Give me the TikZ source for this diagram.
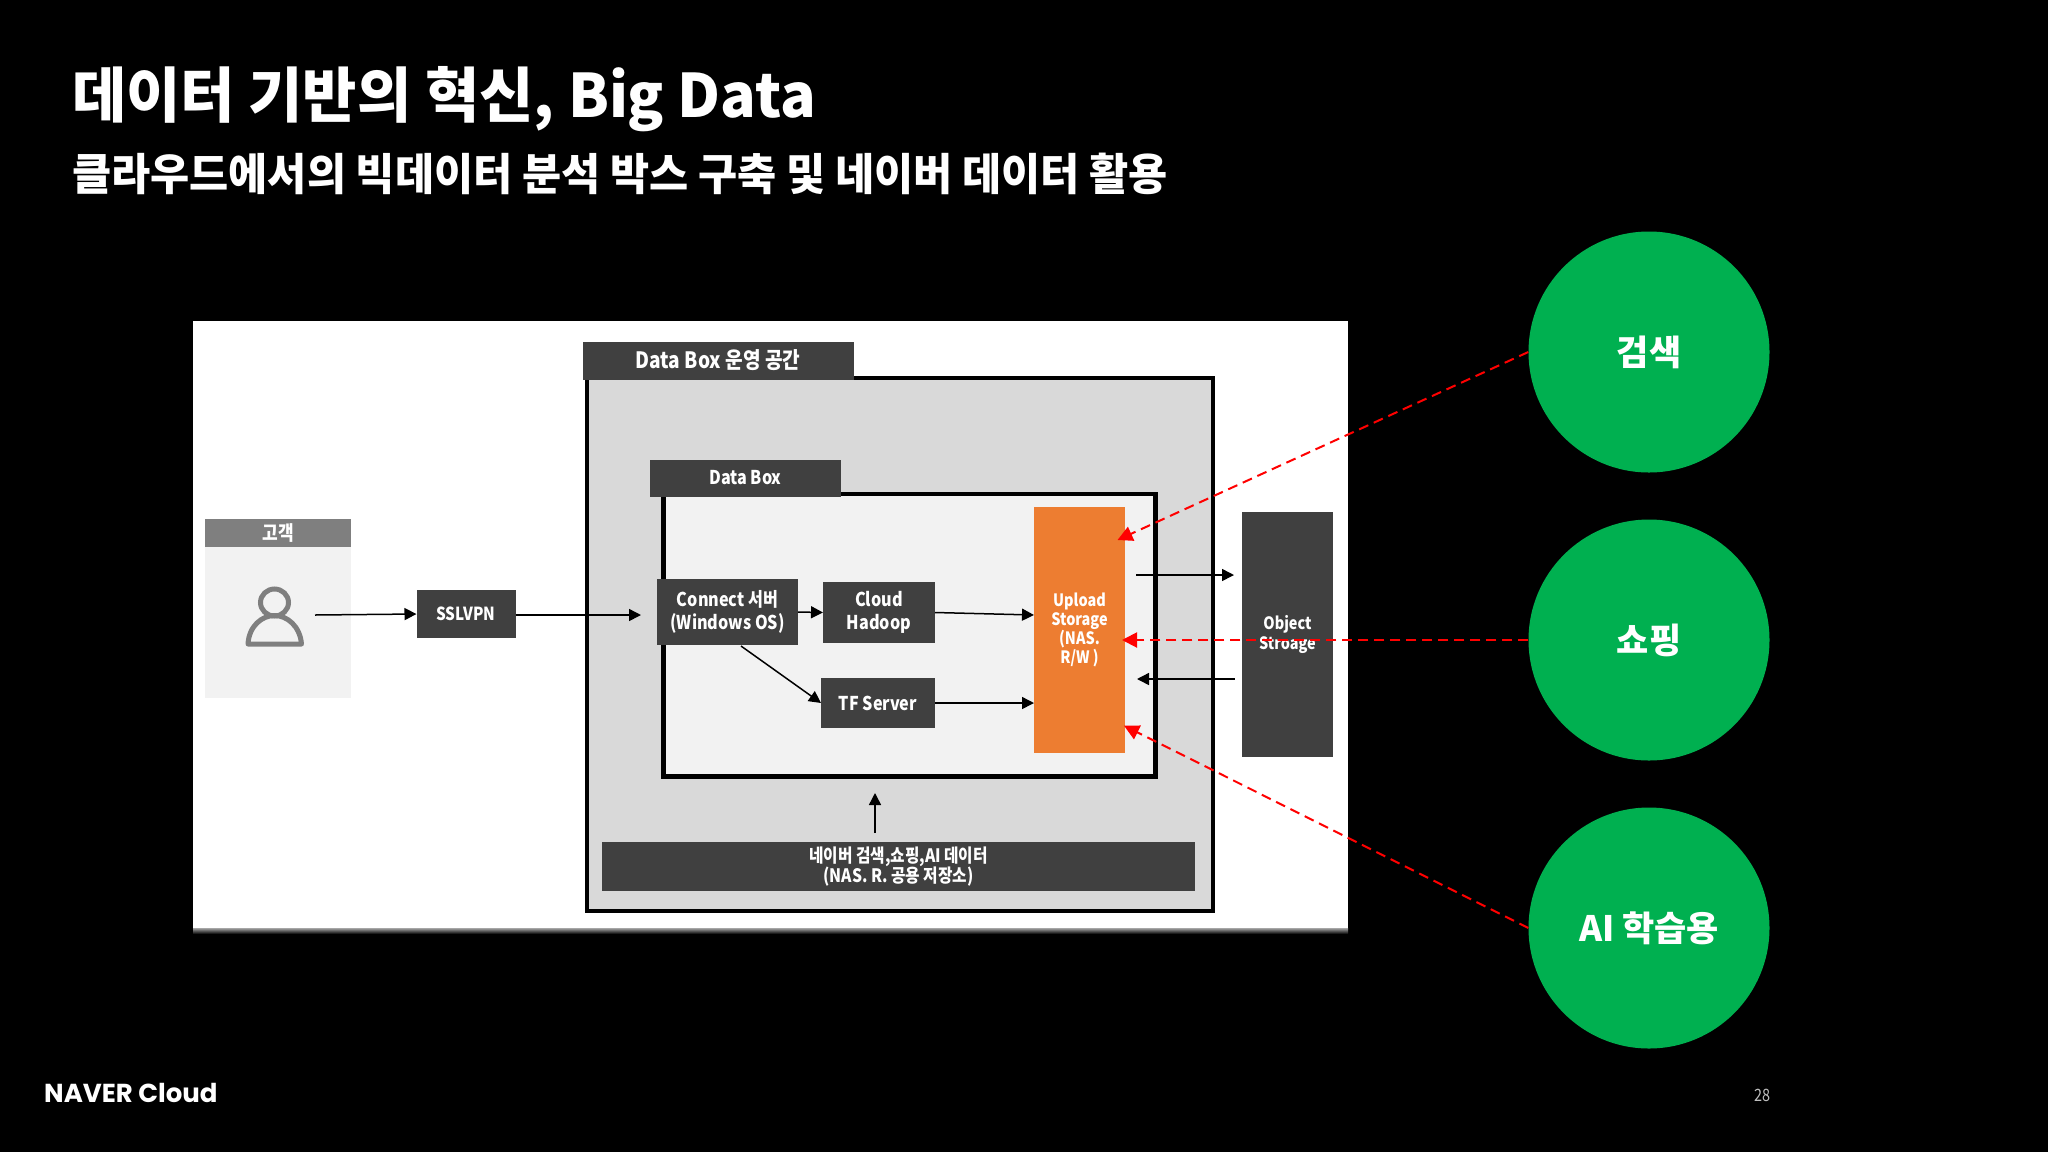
\documentclass[tikz,border=0pt]{standalone}
\usepackage{fontspec}
\usetikzlibrary{arrows.meta,shapes.geometric}
\setmainfont{Noto Sans CJK KR}
\newfontfamily\titlefont{Noto Sans CJK KR}[FakeStretch=0.984]
\newfontfamily\subfont{Noto Sans CJK KR}[FakeStretch=0.967]
\newfontfamily\bubblefont{Noto Sans CJK KR}
\newfontfamily\boxfont{Noto Sans CJK KR}[FakeStretch=0.85]
\newfontfamily\brandfont{Poppins}
\definecolor{darkbox}{HTML}{404040}
\definecolor{lightbox}{HTML}{F2F2F2}
\definecolor{midbox}{HTML}{D9D9D9}
\definecolor{headgray}{HTML}{7F7F7F}
\definecolor{upl}{HTML}{ED7D31}
\definecolor{grn}{HTML}{00B050}
\tikzset{
  plate/.style={inner sep=0pt,outer sep=0pt,draw=none,align=center},
  darkplate/.style={plate,fill=darkbox,text=white,font=\boxfont\bfseries\fontsize{19}{22.7}\selectfont},
  smallplate/.style={darkplate,font=\boxfont\bfseries\fontsize{17}{19.2}\selectfont},
  frame/.style={plate,draw=black,line width=4.5pt},
  flow/.style={draw=black,line width=1.5pt,-{Triangle[length=12pt,width=12pt]}},
  reddash/.style={draw=red,line width=2pt,dash pattern=on 10pt off 6pt,-{Triangle[length=15pt,width=15pt]}},
  bubble/.style={circle,fill=grn,text=white,minimum size=241pt,inner sep=0pt,font=\bubblefont\bfseries\fontsize{35}{38}\selectfont},
}
\begin{document}
\begin{tikzpicture}[x=1pt,y=-1pt]
\useasboundingbox (0,0) rectangle (2048,1152);
\fill[black] (0,0) rectangle (2048,1152);
% titles
\node[anchor=west,inner sep=0pt,text=white,font=\titlefont\bfseries\fontsize{60}{64}\selectfont] (title) at (72,99) {데이터 기반의 혁신, Big Data};
\node[anchor=west,inner sep=0pt,text=white,font=\subfont\bfseries\fontsize{44}{48}\selectfont] (subtitle) at (72,174) {클라우드에서의 빅데이터 분석 박스 구축 및 네이버 데이터 활용};
% white panel
\shade[top color=gray!70,bottom color=black] (193,928) rectangle (1348,934);
\node[plate,fill=white,minimum width=1155pt,minimum height=607pt] (panel) at (770.5,624.5) {};
% customer
\node[plate,fill=lightbox,minimum width=146pt,minimum height=151pt] (custbody) at (278,622.5) {};
\node[plate,fill=headgray,text=white,minimum width=146pt,minimum height=28pt,font=\boxfont\bfseries\fontsize{20}{22}\selectfont] (custhead) at (278,533) {고객};
\draw[headgray,line width=5pt] (274.5,602.5) ellipse [x radius=14pt,y radius=13.5pt];
\draw[headgray,line width=5pt,line join=round] (248,644) .. controls (249,626) and (262,615.5) .. (274.5,615.5) .. controls (287,615.5) and (300,626) .. (301.5,644) -- cycle;
% outer frame
\node[frame,fill=midbox,minimum width=626pt,minimum height=533pt] (outer) at (900,644.5) {};
\node[darkplate,minimum width=271pt,minimum height=38pt,font=\boxfont\bfseries\fontsize{22.5}{25}\selectfont] (outerhead) at (718,360.5) {Data Box 운영 공간};
% inner frame
\node[frame,fill=lightbox,minimum width=492pt,minimum height=282.5pt] (inner) at (909.3,635.25) {};
\node[darkplate,minimum width=191pt,minimum height=37pt] (innerhead) at (745.5,478) {Data Box};
% boxes
\node[plate,fill=darkbox,minimum width=99pt,minimum height=48pt,text=white,font=\boxfont\bfseries\fontsize{18}{20}\selectfont] (sslvpn) at (466,614) {SSLVPN};
\node[darkplate,minimum width=141pt,minimum height=66pt] (connect) at (727.5,612) {Connect 서버\\(Windows OS)};
\node[darkplate,minimum width=112pt,minimum height=61pt] (hadoop) at (879,612.5) {Cloud\\Hadoop};
\node[darkplate,minimum width=114pt,minimum height=50pt] (tf) at (878,703) {TF Server};
\node[smallplate,fill=upl,minimum width=91pt,minimum height=246pt] (upload) at (1079.5,630) {Upload\\Storage\\(NAS.\\R/W )};
\node[smallplate,minimum width=91pt,minimum height=245pt] (object) at (1287.5,634.5) {Object\\Stroage};
\node[darkplate,minimum width=593pt,minimum height=49pt,font=\boxfont\bfseries\fontsize{18.5}{19.2}\selectfont] (naverdata) at (898.5,866.5) {네이버 검색,쇼핑,AI 데이터\\(NAS. R. 공용 저장소)};
% coordinates
\coordinate (userout) at (315,615);
\coordinate (vpnin) at (641,615);
\coordinate (connectout) at (741,646);
\coordinate (hadoopin) at (1034,615);
\coordinate (upout) at (1136,575);
\coordinate (objin) at (1234,575);
\coordinate (objout) at (1234.5,679);
\coordinate (upin) at (1137,679);
\coordinate (barout) at (875,833);
\coordinate (barin) at (875,793);
\coordinate (tipa) at (1117.5,540);
\coordinate (tipb) at (1122,640);
\coordinate (tipc) at (1124,725.7);
% connectors
\draw[flow] (userout) -- (sslvpn.west);
\draw[flow] (sslvpn.east |- vpnin) -- (vpnin);
\draw[flow] (connect.east) -- (hadoop.west);
\draw[flow] (hadoop.east) -- (hadoopin);
\draw[flow] (connectout) -- (tf.west);
\draw[flow] (tf.east) -- (tf.east -| upload.west);
\draw[flow] (upout) -- (objin);
\draw[flow] (objout) -- (upin);
\draw[flow] (barout) -- (barin);
% bubbles
\node[bubble] (search) at (1649,352) {검색};
\node[bubble] (shop) at (1649,640) {쇼핑};
\node[bubble] (ai) at (1649,928) {AI 학습용};
\draw[reddash] (search.west) -- (tipa);
\draw[reddash] (shop.west) -- (tipb);
\draw[reddash] (ai.west) -- (tipc);
% footer
\node[anchor=west,inner sep=0pt,text=white,font=\brandfont\bfseries\fontsize{26}{28}\selectfont] (brand) at (44,1093) {NAVER Cloud};
\node[inner sep=0pt,text=white!75!black,font=\boxfont\fontsize{17}{20}\selectfont] (pageno) at (1762,1095) {28};
\end{tikzpicture}
\end{document}
